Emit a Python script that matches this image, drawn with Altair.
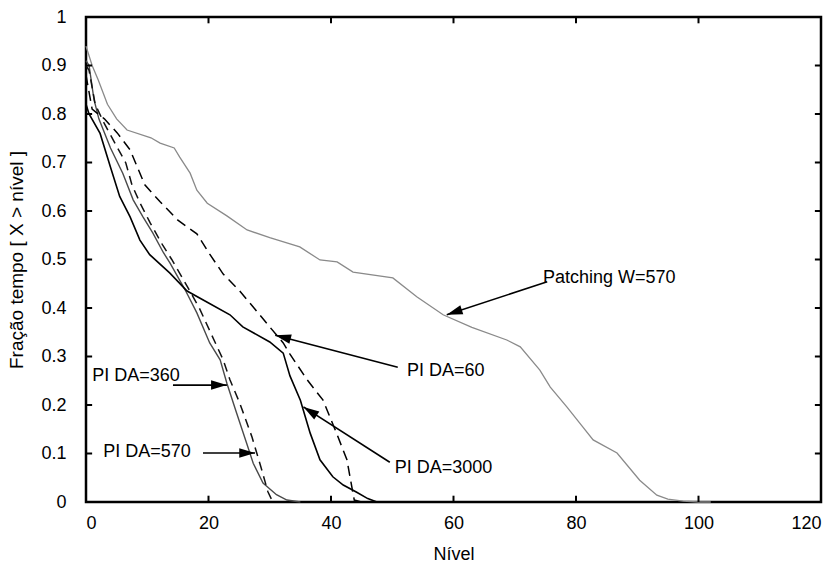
import math
import altair as alt
import pandas as pd

# Complementary distribution curves: fraction of time with X above each level
patch_x = [0, 1, 2, 3.5, 5, 6.7, 10.6, 12.1, 14.4, 15.3, 17, 18.1, 19.8, 23, 26.3, 30, 34.9,
           38.2, 41, 43.6, 50.1, 54, 58.3, 63, 68.7, 70.9, 74.1, 75.8, 78.5, 81.1, 82.8, 86.7,
           90.4, 93.2, 95, 97.5, 100, 102]
patch_y = [0.94, 0.90, 0.87, 0.82, 0.79, 0.767, 0.751, 0.74, 0.73, 0.711, 0.678, 0.643, 0.616,
           0.59, 0.561, 0.545, 0.526, 0.499, 0.495, 0.474, 0.462, 0.423, 0.386, 0.36, 0.334,
           0.32, 0.272, 0.237, 0.196, 0.155, 0.128, 0.101, 0.045, 0.014, 0.006, 0.002, 0, 0]

da60_x = [0, 1, 3, 5.1, 7.2, 9.6, 12.1, 15, 18.1, 20.2, 22.4, 25.1, 27.3, 30, 32.2, 33.3,
          36.1, 38.7, 40.9, 42.6, 43.4, 43.8, 45]
da60_y = [0.88, 0.81, 0.79, 0.761, 0.726, 0.654, 0.619, 0.581, 0.553, 0.511, 0.47, 0.435,
          0.402, 0.361, 0.328, 0.305, 0.252, 0.21, 0.142, 0.087, 0.031, 0.004, 0]

da3000_x = [0, 0.5, 2.3, 4, 5.5, 7.2, 8.8, 10.4, 13.7, 16.5, 19.8, 23.5, 25.6, 30, 32.2, 33.3,
            35, 36.6, 38.2, 40.3, 42, 44.2, 46, 47.5]
da3000_y = [0.82, 0.80, 0.76, 0.69, 0.63, 0.588, 0.54, 0.51, 0.472, 0.435, 0.412, 0.386,
            0.361, 0.33, 0.307, 0.26, 0.21, 0.142, 0.087, 0.052, 0.035, 0.02, 0.007, 0]

da360_x = [0, 0.5, 1.3, 2.1, 4, 6, 7.7, 9.3, 10.9, 12.6, 13.7, 16.2, 18.1, 20.2, 21.9, 23,
           24.6, 26.2, 27.3, 28.9, 31.1, 32.8, 35]
da360_y = [0.91, 0.90, 0.83, 0.79, 0.73, 0.678, 0.623, 0.588, 0.555, 0.515, 0.493, 0.437,
           0.39, 0.328, 0.293, 0.245, 0.183, 0.122, 0.08, 0.039, 0.015, 0.004, 0]

da570_x = [0, 0.5, 1.5, 3, 4.9, 6.5, 7.5, 8.8, 10.5, 12.5, 14, 16.5, 18.5, 20.5, 22.4, 23.5,
           25.1, 27.1, 28.7, 29.7, 30.5]
da570_y = [0.90, 0.89, 0.82, 0.78, 0.736, 0.699, 0.654, 0.617, 0.575, 0.53, 0.50, 0.445, 0.40,
           0.345, 0.293, 0.252, 0.204, 0.134, 0.066, 0.021, 0]

# Callout labels and their arrows (start -> tip)
label_text = ["Patching W=570", "PI DA=60", "PI DA=3000", "PI DA=360", "PI DA=570"]
label_x = [74.6, 52.4, 50.4, 1.0, 2.8]
label_y = [0.462, 0.270, 0.071, 0.260, 0.104]
arrow_x1 = [75.3, 50.9, 49.6, 14.2, 19.1]
arrow_y1 = [0.454, 0.278, 0.082, 0.241, 0.101]
arrow_x2 = [58.9, 30.9, 35.5, 23.0, 27.6]
arrow_y2 = [0.386, 0.344, 0.196, 0.241, 0.101]

x_ticks = [0, 20, 40, 60, 80, 100, 120]
y_ticks = [0, 0.1, 0.2, 0.3, 0.4, 0.5, 0.6, 0.7, 0.8, 0.9, 1]

W, H = 735, 485
FONT = "Liberation Sans"

xs = alt.Scale(domain=[0, 120], nice=False)
ys = alt.Scale(domain=[0, 1], nice=False)


def curve(xv, yv, color, width, dash=None):
    df = pd.DataFrame({"x": xv, "y": yv})
    kw = dict(color=color, strokeWidth=width, interpolate="linear")
    if dash:
        kw["strokeDash"] = dash
    return alt.Chart(df).mark_line(**kw).encode(
        x=alt.X("x:Q", scale=xs),
        y=alt.Y("y:Q", scale=ys),
    )


base_x = alt.X("x:Q", scale=xs, title="Nível",
               axis=alt.Axis(values=x_ticks, grid=False, domain=False, ticks=False,
                             labelFont=FONT, labelFontSize=18, labelColor="black",
                             labelPadding=12, titleFont=FONT, titleFontSize=18,
                             titleFontWeight="normal", titleColor="black", titlePadding=13))
base_y = alt.Y("y:Q", scale=ys, title="Fração tempo [ X > nível ]",
               axis=alt.Axis(values=y_ticks, grid=False, domain=False, ticks=False,
                             labelFont=FONT, labelFontSize=18, labelColor="black",
                             labelPadding=20, format="~g", titleFont=FONT, titleFontSize=19,
                             titleFontWeight="normal", titleColor="black", titlePadding=14))

patch_df = pd.DataFrame({"x": patch_x, "y": patch_y})
patch = alt.Chart(patch_df).mark_line(color="#8a8a8a", strokeWidth=1.3).encode(x=base_x, y=base_y)

lines = [
    patch,
    curve(da360_x, da360_y, "#4a4a4a", 1.4),
    curve(da570_x, da570_y, "#111111", 1.5, [9, 6]),
    curve(da3000_x, da3000_y, "#000000", 1.6),
    curve(da60_x, da60_y, "#000000", 1.5, [10, 6]),
]

# Inward tick marks on all four sides of the frame
inner_x = [v for v in x_ticks if 0 < v < 120]
inner_y = [v for v in y_ticks if 0 < v < 1]
tx = pd.DataFrame({"x": inner_x})
ty = pd.DataFrame({"y": inner_y})
tick_bottom = alt.Chart(tx).mark_rule(color="black", strokeWidth=2).encode(
    x=alt.X("x:Q", scale=xs), y=alt.datum(0, scale=ys), y2=alt.datum(0.013))
tick_top = alt.Chart(tx).mark_rule(color="black", strokeWidth=2).encode(
    x=alt.X("x:Q", scale=xs), y=alt.datum(1, scale=ys), y2=alt.datum(0.987))
tick_left = alt.Chart(ty).mark_rule(color="black", strokeWidth=2).encode(
    y=alt.Y("y:Q", scale=ys), x=alt.datum(0, scale=xs), x2=alt.datum(1.0))
tick_right = alt.Chart(ty).mark_rule(color="black", strokeWidth=2).encode(
    y=alt.Y("y:Q", scale=ys), x=alt.datum(120, scale=xs), x2=alt.datum(119.0))

# Arrow shafts, heads and label text
px_per_x = W / 120.0
px_per_y = H / 1.0
angles = []
for a, b, c, d in zip(arrow_x1, arrow_y1, arrow_x2, arrow_y2):
    dx = (c - a) * px_per_x
    dy = -(d - b) * px_per_y
    angles.append(math.degrees(math.atan2(dy, dx)) % 360)

arr_df = pd.DataFrame({"x1": arrow_x1, "y1": arrow_y1, "x2": arrow_x2, "y2": arrow_y2,
                       "ang": angles})
shafts = alt.Chart(arr_df).mark_rule(color="black", strokeWidth=1.6).encode(
    x=alt.X("x1:Q", scale=xs), y=alt.Y("y1:Q", scale=ys), x2="x2:Q", y2="y2:Q")
heads = alt.Chart(arr_df).mark_point(
    shape="M0,0L-1,-0.3L-1,0.3Z", filled=True, color="black", opacity=1, size=1000,
    strokeWidth=0).encode(
    x=alt.X("x2:Q", scale=xs), y=alt.Y("y2:Q", scale=ys),
    angle=alt.Angle("ang:Q", scale=None))

lab_df = pd.DataFrame({"t": label_text, "x": label_x, "y": label_y})
labels = alt.Chart(lab_df).mark_text(
    align="left", baseline="middle", font=FONT, fontSize=18, color="black").encode(
    x=alt.X("x:Q", scale=xs), y=alt.Y("y:Q", scale=ys), text="t:N")

chart = alt.layer(
    *lines, tick_bottom, tick_top, tick_left, tick_right, shafts, heads, labels
).properties(
    width=W, height=H,
    autosize=alt.AutoSizeParams(type="none"),
    padding={"left": 86, "top": 17, "right": 18, "bottom": 63},
    background="white",
).configure_view(stroke="black", strokeWidth=2.5)

chart.save("out.html", embed_options={"renderer": "svg", "actions": False})
